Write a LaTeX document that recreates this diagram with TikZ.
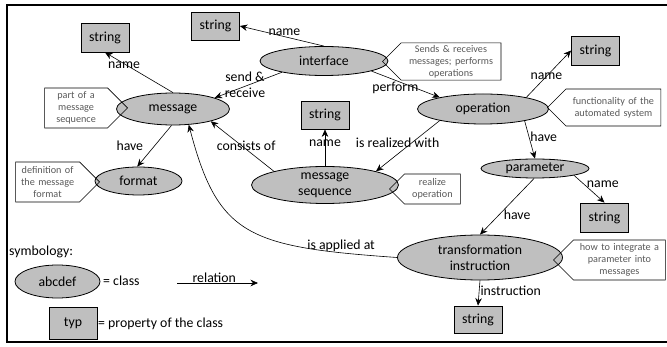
\documentclass[tikz,border=0pt]{standalone}
\usepackage{fontspec}
\setmainfont{Carlito}
\usetikzlibrary{shapes.geometric,shapes.symbols,arrows.meta}
\definecolor{clsgrey}{RGB}{191,191,191}
\definecolor{notegrey}{RGB}{89,89,89}
\newcommand{\lblfont}{\fontsize{13.8}{16}\selectfont}
\newcommand{\remfont}{\fontsize{10.2}{12.2}\selectfont}

\begin{document}
\begin{tikzpicture}[x=1pt, y=-1pt,
    cls/.style={ellipse, draw, line width=0.8pt, fill=clsgrey, inner xsep=0pt, inner ysep=-3pt, font=\lblfont, align=center},
    prop/.style={rectangle, draw, line width=0.8pt, fill=clsgrey, minimum width=48pt, minimum height=29pt, inner sep=0pt, font=\lblfont},
    notebox/.style={signal, signal pointer angle=90, draw, line width=0.6pt, align=center, font=\remfont, text=notegrey, inner sep=2pt},
    rel/.style={->, >={Stealth[length=7.5pt, width=6.5pt]}, line width=0.6pt},
    lab/.style={font=\lblfont, inner sep=1pt}]
    \useasboundingbox (0,0) rectangle (667,347);
    \draw[line width=2.5pt] (7,5) rectangle (672,342);

    \node[cls, minimum width=128pt, minimum height=29pt] (interface) at (324,61) {interface};
    \node[cls, minimum width=113pt, minimum height=32pt] (message) at (173,109) {message};
    \node[cls, minimum width=87pt, minimum height=28pt] (format) at (138.5,181) {format};
    \node[cls, minimum width=147pt, minimum height=37pt] (mseq) at (325,185) {message\\sequence};
    \node[cls, minimum width=131pt, minimum height=30pt] (operation) at (483,109) {operation};
    \node[cls, minimum width=108pt, minimum height=19pt] (parameter) at (535,168.5) {parameter};
    \node[cls, minimum width=165pt, minimum height=45pt] (ti) at (480,257.5) {transformation\\instruction};
    \node[cls, minimum width=85pt, minimum height=33pt] (abcdef) at (57.5,281.5) {abcdef};

    \node[prop] (str1) at (105,37.5) {string};
    \node[prop, minimum height=28pt] (str2) at (215.5,26) {string};
    \node[prop, minimum height=28pt] (str3) at (325,115) {string};
    \node[prop] (str4) at (595.5,50.5) {string};
    \node[prop] (str5) at (604.5,217.5) {string};
    \node[prop, minimum height=27pt] (str6) at (478,319.5) {string};
    \node[prop, minimum height=32pt] (typ) at (73,323) {typ};

    \node[notebox, signal to=west, anchor=west, text width=96pt, minimum height=37pt] (ifnote) at (382,61.5) {Sends \& receives\\messages; performs\\operations};
    \node[notebox, signal to=east, anchor=east, text width=59pt, minimum height=40pt] (msgnote) at (128,108) {part of a\\message\\sequence};
    \node[notebox, signal to=east, anchor=east, text width=60pt, minimum height=40pt] (fmtnote) at (100,182) {definition of\\the message\\format};
    \node[notebox, signal to=west, anchor=west, text width=91pt, minimum height=37pt] (opnote) at (547,107.5) {functionality of the\\automated system};
    \node[notebox, signal to=west, anchor=west, text width=52pt, minimum height=30pt] (seqnote) at (389,189) {realize\\operation};
    \node[notebox, signal to=west, anchor=west, text width=88pt, minimum height=40pt] (tinote) at (553,260) {how to integrate a\\parameter into\\messages};

    \draw[rel] (interface.north) -- node[lab, pos=0.47, above] {name} (str2.east);
    \draw[rel] (interface.195) -- node[lab, pos=0.55, yshift=2pt, align=center] {send \&\\receive} (message.15);
    \draw[rel] (interface.-12) -- node[lab, pos=0.35, below] {perform} (operation.165);
    \draw[rel] (message.north) -- node[lab, pos=0.72, yshift=-2pt] {name} (str1.south);
    \draw[rel] (message.265) -- node[lab, pos=0.5, left=10pt] {have} (format.95);
    \draw[rel] (mseq.165) -- node[lab, pos=0.44, yshift=3pt] {consists of} (message.-18);
    \draw[rel] (mseq.north) -- node[lab, pos=0.63] {name} (str3.south);
    \draw[rel] (operation.195) -- node[lab, pos=0.44, xshift=-14pt] {is realized with} (mseq.15);
    \draw[rel] (operation.15) -- node[lab, pos=0.45] {name} (str4.west);
    \draw[rel] (operation.-16) -- node[lab, pos=0.43, right] {have} (parameter.north);
    \draw[rel] (parameter.-10) -- node[lab, pos=0.38, right, yshift=2pt] {name} (str5.north);
    \draw[rel] (parameter.265) -- node[lab, pos=0.64, right=3pt] {have} (ti.north);
    \draw[rel] (ti.south) -- node[lab, pos=0.4, right] {instruction} (str6.north);
    \draw[rel] (ti.west) .. controls (248,247) and (218,236) .. node[lab, pos=0.14, above] {is applied at} (message.-45);

    \node[lab, anchor=west] (symb) at (8,252) {symbology:};
    \node[lab, anchor=west] (clsdef) at (102,281) {= class};
    \node[lab, anchor=west] (propdef) at (97,324) {= property of the class};
    \coordinate (rel0) at (177,283);
    \coordinate (rel1) at (258,283);
    \draw[rel] (rel0) -- node[lab, above, inner sep=0pt, pos=0.46] {relation} (rel1);
\end{tikzpicture}
\end{document}
